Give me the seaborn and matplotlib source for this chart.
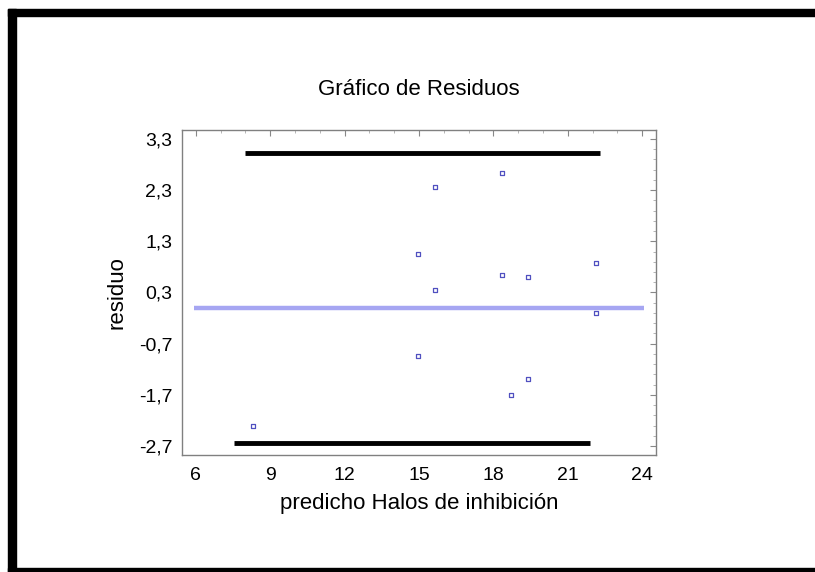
import numpy as np
import pandas as pd
import matplotlib
matplotlib.use("Agg")
import matplotlib.pyplot as plt
import seaborn as sns
from matplotlib.ticker import MultipleLocator, FixedLocator

sns.set_theme(style="white")
plt.rcParams['font.family'] = ['Liberation Sans', 'DejaVu Sans']
plt.rcParams['text.color'] = 'black'
plt.rcParams['axes.labelcolor'] = 'black'

# data
predicho = [18.34, 15.64, 14.95, 22.12, 18.34, 19.41, 15.64, 22.12, 14.95, 19.41, 18.73, 8.31]
residuo = [2.64, 2.36, 1.05, 0.88, 0.65, 0.60, 0.35, -0.11, -0.95, -1.40, -1.71, -2.31]
limit_y = [3.02, -2.635]
limit_xmin = [7.99, 7.55]
limit_xmax = [22.30, 21.90]
zero_y = 0.0
zero_x = [5.93, 24.08]
xticks = [6, 9, 12, 15, 18, 21, 24]
yticks = [-2.7, -1.7, -0.7, 0.3, 1.3, 2.3, 3.3]

df = pd.DataFrame({"predicho": predicho, "residuo": residuo})

fig = plt.figure(figsize=(8.15, 5.72), dpi=100)
ax = fig.add_axes([182/815, 1-455/572, 474/815, 325/572])

# zero line
ax.hlines(zero_y, zero_x[0], zero_x[1], color="#a6a6f2", lw=3.2, zorder=1)
# limit lines
ax.hlines(limit_y, limit_xmin, limit_xmax, color="black", lw=3.5, zorder=2)

sns.scatterplot(data=df, x="predicho", y="residuo", ax=ax, marker="s", s=9,
                facecolor="white", edgecolor="#5050c0", linewidth=0.9, zorder=3)

ax.set_xlim(5.44, 24.56)
ax.set_ylim(-2.876, 3.476)
ax.set_xticks(xticks)
ax.set_xticklabels([str(v) for v in xticks])
ax.set_yticks(yticks)
ax.set_yticklabels([f"{v:.1f}".replace(".", ",") for v in yticks])
ax.xaxis.set_minor_locator(MultipleLocator(1))
ax.yaxis.set_minor_locator(FixedLocator(np.arange(-2.7, 3.31, 0.2)))

ax.tick_params(axis="both", which="major", direction="in", length=4, width=0.8,
               color="#888888", labelsize=14, labelcolor="black", pad=7,
               top=True, right=True)
ax.tick_params(axis="x", which="major", pad=9)
ax.tick_params(axis="both", which="minor", direction="in", length=2.5, width=0.6,
               color="#aaaaaa", top=True, right=True)
for sp in ax.spines.values():
    sp.set_color("#808080")
    sp.set_linewidth(1.0)

ax.set_xlabel("predicho Halos de inhibición", fontsize=16, labelpad=6, color="black")
ax.set_ylabel("residuo", fontsize=16, labelpad=8, color="black")
ax.set_title("Gráfico de Residuos", fontsize=16, pad=25, color="black")

# outer black frame
fig.patches.append(plt.Rectangle((8/815, 0), 8/815, 1-9/572, transform=fig.transFigure,
                                 color="black", zorder=10))
fig.patches.append(plt.Rectangle((8/815, 1-16/572), 1, 7/572, transform=fig.transFigure,
                                 color="black", zorder=10))
fig.patches.append(plt.Rectangle((8/815, 0), 1, 4/572, transform=fig.transFigure,
                                 color="black", zorder=10))

fig.savefig("out.png", dpi=100)
